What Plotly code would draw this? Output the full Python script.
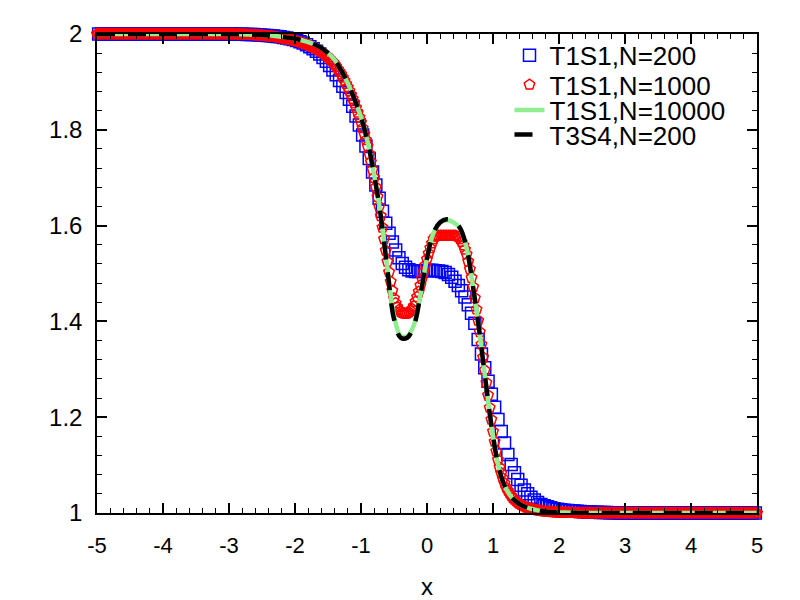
import numpy as np
import plotly.graph_objects as go

# tick labels
x_ticks = [-5, -4, -3, -2, -1, 0, 1, 2, 3, 4, 5]
x_tick_labels = ['-5', '-4', '-3', '-2', '-1', '0', '1', '2', '3', '4', '5']
y_ticks = [1, 1.2, 1.4, 1.6, 1.8, 2]
y_tick_labels = ['1', '1.2', '1.4', '1.6', '1.8', '2']

# T1S1, N=200 (cell centres, dx = 0.05)
t1s1_n200 = [
    2.0, 2.0, 2.0, 2.0, 2.0, 2.0, 2.0, 2.0, 2.0, 2.0,
    2.0, 2.0, 2.0, 2.0, 2.0, 2.0, 2.0, 2.0, 2.0, 2.0,
    2.0, 2.0, 2.0, 2.0, 2.0, 2.0, 2.0, 2.0, 2.0, 2.0,
    2.0, 2.0, 2.0, 2.0, 2.0, 2.0, 2.0, 2.0, 2.0, 2.0,
    1.9998, 1.9997, 1.9996, 1.9995, 1.9993, 1.9991, 1.9989, 1.9987, 1.9984, 1.9981,
    1.9975, 1.997, 1.9965, 1.996, 1.995, 1.994, 1.9928, 1.9915, 1.990, 1.9885,
    1.9865, 1.984, 1.981, 1.9775, 1.9735, 1.969, 1.964, 1.958, 1.951, 1.943,
    1.934, 1.925, 1.915, 1.903, 1.891, 1.878, 1.864, 1.849, 1.829, 1.810,
    1.789, 1.766, 1.740, 1.712, 1.685, 1.657, 1.630, 1.605, 1.584, 1.566,
    1.549, 1.533, 1.521, 1.513, 1.508, 1.505, 1.504, 1.504, 1.505, 1.506,
    1.507, 1.507, 1.506, 1.505, 1.504, 1.502, 1.498, 1.492, 1.484, 1.475,
    1.464, 1.451, 1.435, 1.417, 1.396, 1.362, 1.332, 1.303, 1.275, 1.248,
    1.221, 1.195, 1.170, 1.146, 1.122, 1.101, 1.084, 1.070, 1.058, 1.048,
    1.040, 1.033, 1.027, 1.022, 1.018, 1.015, 1.013, 1.011, 1.009, 1.008,
    1.007, 1.006, 1.005, 1.0045, 1.004, 1.0035, 1.003, 1.0025, 1.002, 1.002,
    1.0015, 1.0015, 1.001, 1.001, 1.001, 1.0005, 1.0005, 1.0005, 1.0, 1.0,
    1.0, 1.0, 1.0, 1.0, 1.0, 1.0, 1.0, 1.0, 1.0, 1.0,
    1.0, 1.0, 1.0, 1.0, 1.0, 1.0, 1.0, 1.0, 1.0, 1.0,
    1.0, 1.0, 1.0, 1.0, 1.0, 1.0, 1.0, 1.0, 1.0, 1.0,
    1.0, 1.0, 1.0, 1.0, 1.0, 1.0, 1.0, 1.0, 1.0, 1.0,
]

# T1S1, N=1000 (every 0.025)
t1s1_n1000 = [
    2.0, 2.0, 2.0, 2.0, 2.0, 2.0, 2.0, 2.0, 2.0, 2.0,
    2.0, 2.0, 2.0, 2.0, 2.0, 2.0, 2.0, 2.0, 2.0, 2.0,
    2.0, 2.0, 2.0, 2.0, 2.0, 2.0, 2.0, 2.0, 2.0, 2.0,
    2.0, 2.0, 2.0, 2.0, 2.0, 2.0, 2.0, 2.0, 2.0, 2.0,
    2.0, 2.0, 2.0, 2.0, 2.0, 2.0, 2.0, 2.0, 2.0, 2.0,
    2.0, 2.0, 2.0, 2.0, 2.0, 2.0, 2.0, 2.0, 2.0, 2.0,
    2.0, 2.0, 2.0, 2.0, 2.0, 2.0, 2.0, 2.0, 2.0, 2.0,
    2.0, 2.0, 2.0, 2.0, 2.0, 2.0, 2.0, 2.0, 2.0, 2.0,
    2.0, 2.0, 1.9999, 1.9998, 1.9997, 1.9996, 1.9995, 1.9994, 1.9993, 1.9992,
    1.999, 1.9988, 1.9986, 1.9984, 1.9982, 1.998, 1.9978, 1.9976, 1.9974, 1.9972,
    1.997, 1.9966, 1.9963, 1.9959,
    1.9955, 1.9951, 1.9948, 1.9944,
    1.994, 1.9934, 1.9928, 1.9921,
    1.9915, 1.9909, 1.9903, 1.9896,
    1.989, 1.9883, 1.9875, 1.9868,
    1.986, 1.985, 1.984, 1.983,
    1.982, 1.9808, 1.9795, 1.9783,
    1.977, 1.9755, 1.974, 1.9725,
    1.971, 1.969, 1.967, 1.965,
    1.963, 1.9603, 1.9575, 1.9548,
    1.952, 1.9483, 1.9445, 1.9408,
    1.937, 1.932, 1.9265, 1.9213,
    1.916, 1.9093, 1.9025, 1.8958,
    1.889, 1.881, 1.873, 1.8645,
    1.856, 1.846, 1.836, 1.826,
    1.816, 1.8035, 1.791, 1.7785,
    1.766, 1.7495, 1.733, 1.7165,
    1.700, 1.680, 1.660, 1.640,
    1.620, 1.596, 1.572, 1.548,
    1.525, 1.503, 1.483, 1.464,
    1.448, 1.438, 1.430, 1.424,
    1.420, 1.418, 1.417, 1.416,
    1.417, 1.419, 1.422, 1.426,
    1.432, 1.441, 1.451, 1.462,
    1.475, 1.489, 1.503, 1.517,
    1.530, 1.542, 1.553, 1.563,
    1.572, 1.577, 1.579, 1.579,
    1.579, 1.579, 1.579, 1.579,
    1.579, 1.579, 1.579, 1.579,
    1.579, 1.579, 1.578, 1.576,
    1.572, 1.566, 1.559, 1.550,
    1.540, 1.525, 1.509, 1.491,
    1.472, 1.449, 1.425, 1.402,
    1.378, 1.352, 1.325, 1.298,
    1.272, 1.246, 1.220, 1.195,
    1.170, 1.149, 1.129, 1.111,
    1.095, 1.083, 1.072, 1.062,
    1.053, 1.047, 1.041, 1.036,
    1.031, 1.028, 1.025, 1.022,
    1.019, 1.017, 1.0155, 1.0138,
    1.012, 1.011, 1.010, 1.009,
    1.008, 1.0073, 1.0065, 1.0058,
    1.005, 1.0045, 1.004, 1.0035,
    1.003, 1.0028, 1.0025, 1.0023,
    1.002, 1.0018, 1.0015, 1.0013,
    1.001, 1.001, 1.001, 1.001,
    1.001, 1.0009, 1.0008, 1.0006,
    1.0005, 1.0004, 1.0003, 1.0001,
    1.0, 1.0, 1.0, 1.0,
    1.0, 1.0, 1.0, 1.0,
    1.0,
    1.0, 1.0, 1.0, 1.0, 1.0, 1.0, 1.0, 1.0, 1.0, 1.0,
    1.0, 1.0, 1.0, 1.0, 1.0, 1.0, 1.0, 1.0, 1.0, 1.0,
    1.0, 1.0, 1.0, 1.0, 1.0, 1.0, 1.0, 1.0, 1.0, 1.0,
    1.0, 1.0, 1.0, 1.0, 1.0, 1.0, 1.0, 1.0, 1.0, 1.0,
    1.0, 1.0, 1.0, 1.0, 1.0, 1.0, 1.0, 1.0, 1.0, 1.0,
    1.0, 1.0, 1.0, 1.0, 1.0, 1.0, 1.0, 1.0, 1.0, 1.0,
    1.0, 1.0, 1.0, 1.0, 1.0, 1.0, 1.0, 1.0, 1.0, 1.0,
    1.0, 1.0, 1.0, 1.0, 1.0, 1.0, 1.0, 1.0, 1.0, 1.0,
    1.0, 1.0, 1.0, 1.0, 1.0, 1.0, 1.0, 1.0, 1.0, 1.0,
    1.0, 1.0, 1.0, 1.0, 1.0, 1.0, 1.0, 1.0, 1.0, 1.0,
]

# T1S1, N=10000 (read every 0.1)
t1s1_n10000 = [
    2.0, 2.0, 2.0, 2.0, 2.0, 2.0, 2.0, 2.0, 2.0, 2.0,
    2.0, 2.0, 2.0, 2.0, 2.0, 2.0, 2.0, 2.0, 2.0, 2.0, 2.0,
    1.9995, 1.9993, 1.999, 1.9985, 1.998, 1.997, 1.996, 1.994, 1.992, 1.990,
    1.987, 1.983, 1.978, 1.971, 1.960, 1.946, 1.924, 1.897, 1.864, 1.826,
    1.775, 1.705, 1.622, 1.512, 1.412, 1.370, 1.369, 1.392, 1.455, 1.532,
    1.585, 1.606, 1.611, 1.607, 1.594, 1.553, 1.470, 1.372, 1.262, 1.160,
    1.088, 1.050, 1.030, 1.019, 1.012, 1.008, 1.005, 1.003, 1.002, 1.001,
    1.001, 1.0005, 1.0, 1.0, 1.0, 1.0, 1.0, 1.0, 1.0, 1.0,
    1.0, 1.0, 1.0, 1.0, 1.0, 1.0, 1.0, 1.0, 1.0, 1.0,
    1.0, 1.0, 1.0, 1.0, 1.0, 1.0, 1.0, 1.0, 1.0, 1.0,
]

# T3S4, N=200 (read every 0.1)
t3s4_n200 = [
    2.0, 2.0, 2.0, 2.0, 2.0, 2.0, 2.0, 2.0, 2.0, 2.0,
    2.0, 2.0, 2.0, 2.0, 2.0, 2.0, 2.0, 2.0, 2.0, 2.0, 2.0,
    1.9995, 1.9993, 1.999, 1.9985, 1.998, 1.997, 1.996, 1.994, 1.992, 1.990,
    1.987, 1.983, 1.978, 1.971, 1.960, 1.946, 1.924, 1.897, 1.864, 1.826,
    1.775, 1.705, 1.620, 1.508, 1.405, 1.366, 1.366, 1.390, 1.455, 1.532,
    1.585, 1.607, 1.613, 1.609, 1.595, 1.553, 1.470, 1.372, 1.262, 1.160,
    1.088, 1.050, 1.030, 1.019, 1.012, 1.008, 1.005, 1.003, 1.002, 1.001,
    1.001, 1.0005, 1.0, 1.0, 1.0, 1.0, 1.0, 1.0, 1.0, 1.0,
    1.0, 1.0, 1.0, 1.0, 1.0, 1.0, 1.0, 1.0, 1.0, 1.0,
    1.0, 1.0, 1.0, 1.0, 1.0, 1.0, 1.0, 1.0, 1.0, 1.0,
]

x200 = np.linspace(-4.975, 4.975, len(t1s1_n200))
x1000 = np.linspace(-5, 5, len(t1s1_n1000))
x10000 = np.linspace(-5, 5, len(t1s1_n10000))
x_t3s4 = np.linspace(-5, 5, len(t3s4_n200))

font = 'Liberation Sans, Arial, Helvetica, sans-serif'

fig = go.Figure()
fig.add_trace(go.Scatter(
    x=x200, y=t1s1_n200, mode='markers', name='T1S1,N=200', cliponaxis=False,
    legend='legend',
    marker=dict(symbol='square-open', size=12, color='blue', line=dict(width=1.5))))
fig.add_trace(go.Scatter(
    x=x1000, y=t1s1_n1000, mode='markers', name='T1S1,N=1000', cliponaxis=False,
    legend='legend2',
    marker=dict(symbol='pentagon-open', size=11, color='red', line=dict(width=1.5))))
fig.add_trace(go.Scatter(
    x=x10000, y=t1s1_n10000, mode='lines', name='T1S1,N=10000',
    legend='legend3',
    line=dict(color='#90ee90', width=4.5, shape='spline')))
fig.add_trace(go.Scatter(
    x=x_t3s4, y=t3s4_n200, mode='lines', name='T3S4,N=200',
    legend='legend4',
    line=dict(color='black', width=4.5, dash='18px,13px', shape='spline')))

axis_style = dict(
    showline=True, linecolor='black', linewidth=1.5, mirror='allticks',
    ticks='inside', ticklen=10, tickwidth=1.5, tickcolor='black',
    showgrid=False, zeroline=False,
)

fig.update_xaxes(
    range=[-5, 5], tickmode='array', tickvals=x_ticks, ticktext=x_tick_labels,
    ticklabelstandoff=12,
    tickfont=dict(family=font, size=22, color='black'),
    minor=dict(ticks='inside', ticklen=5, tickwidth=1.2, tickcolor='black', dtick=0.2, tick0=-5),
    title=dict(text='x', font=dict(family=font, size=24, color='black'), standoff=21),
    **axis_style)
fig.update_yaxes(
    range=[1, 2], tickmode='array', tickvals=y_ticks, ticktext=y_tick_labels,
    ticklabelstandoff=8,
    tickfont=dict(family=font, size=24, color='black'),
    minor=dict(ticks='inside', ticklen=5, tickwidth=1.2, tickcolor='black', dtick=0.04, tick0=1),
    **axis_style)

legend_rows = [0.9555, 0.894, 0.841, 0.790]
legend_style = dict(x=0.625, xanchor='left', yanchor='middle',
                    bgcolor='rgba(0,0,0,0)', borderwidth=0,
                    font=dict(family=font, size=26, color='black'))

fig.update_layout(
    width=800, height=600,
    margin=dict(l=89, r=51, t=21, b=94),
    paper_bgcolor='white', plot_bgcolor='white',
    font=dict(family=font, color='black'),
    showlegend=True,
    legend=dict(y=legend_rows[0], **legend_style),
    legend2=dict(y=legend_rows[1], **legend_style),
    legend3=dict(y=legend_rows[2], **legend_style),
    legend4=dict(y=legend_rows[3], **legend_style),
)

fig.write_html('out.html')
